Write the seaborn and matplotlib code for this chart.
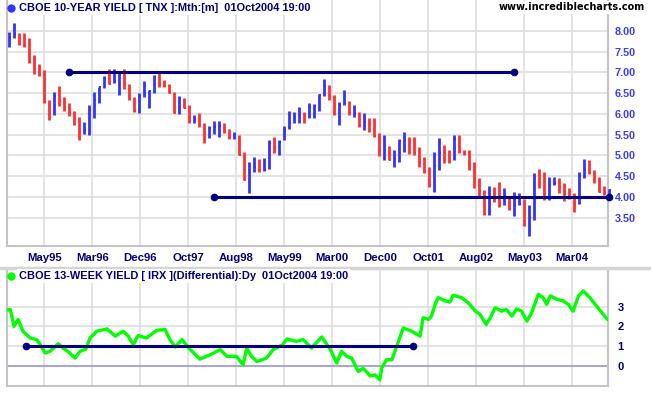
import numpy as np
import pandas as pd
import matplotlib
matplotlib.use("Agg")
import matplotlib.pyplot as plt
from matplotlib.lines import Line2D
import seaborn as sns

# ---------------- data ----------------
months = pd.period_range("1994-10", "2004-10", freq="M")

tnx_high = [7.98, 8.18, 7.94, 7.94, 7.82, 7.42, 7.19, 7.05, 6.33, 6.53,
            6.67, 6.40, 6.25, 6.08, 5.93, 5.81, 6.21, 6.53, 6.65, 6.91,
            7.07, 7.09, 7.02, 7.07, 6.73, 6.41, 6.49, 6.80, 6.57, 6.93,
            7.00, 6.81, 6.73, 6.53, 6.43, 6.37, 6.21, 5.97, 6.01, 5.77,
            5.71, 5.84, 5.84, 5.77, 5.63, 5.57, 5.49, 5.09, 4.85, 4.96,
            4.91, 4.93, 5.36, 5.44, 5.37, 5.71, 6.08, 6.05, 6.17, 6.05,
            6.25, 6.24, 6.47, 6.83, 6.70, 6.45, 6.29, 6.57, 6.30, 6.21,
            6.05, 6.01, 5.89, 5.89, 5.53, 5.49, 5.23, 5.13, 5.39, 5.57,
            5.44, 5.45, 5.21, 4.97, 4.73, 5.09, 5.41, 5.24, 5.13, 5.49,
            5.48, 5.13, 5.12, 4.85, 4.45, 4.17, 4.27, 4.25, 4.37, 4.21,
            3.97, 4.13, 4.09, 3.95, 3.81, 4.57, 4.67, 4.61, 4.49, 4.48,
            4.45, 4.33, 4.21, 4.09, 4.61, 4.91, 4.88, 4.64, 4.49, 4.27,
            4.19]
tnx_low = [7.60, 7.82, 7.66, 7.60, 7.23, 6.95, 6.90, 6.25, 5.85, 5.97,
           6.19, 6.08, 5.95, 5.73, 5.37, 5.52, 5.49, 5.89, 6.25, 6.62,
           6.71, 6.75, 6.45, 6.61, 6.33, 6.05, 6.03, 6.40, 6.13, 6.49,
           6.65, 6.65, 6.49, 6.01, 6.00, 6.13, 5.79, 5.79, 5.68, 5.29,
           5.41, 5.52, 5.45, 5.55, 5.39, 5.39, 5.01, 4.41, 4.10, 4.61,
           4.61, 4.63, 4.67, 5.07, 5.01, 5.36, 5.63, 5.77, 5.77, 5.77,
           5.89, 5.89, 6.08, 6.43, 6.33, 5.97, 5.73, 6.21, 5.97, 5.93,
           5.69, 5.60, 5.57, 5.45, 4.99, 4.88, 4.89, 4.72, 4.85, 5.09,
           5.04, 5.01, 4.71, 4.57, 4.25, 4.11, 4.64, 4.81, 4.81, 4.88,
           5.05, 5.01, 4.65, 4.21, 3.97, 3.57, 3.57, 3.89, 3.75, 3.80,
           3.69, 3.55, 3.81, 3.29, 3.07, 3.45, 4.21, 3.93, 3.92, 4.29,
           4.09, 3.91, 3.96, 3.65, 3.83, 4.45, 4.55, 4.33, 4.11, 4.05,
           3.97]
tnx_close = [7.82, 7.92, 7.84, 7.63, 7.25, 7.20, 6.95, 6.29, 6.20, 6.43,
             6.30, 6.15, 6.05, 5.76, 5.57, 5.60, 6.10, 6.33, 6.65, 6.87,
             6.73, 6.80, 6.94, 6.73, 6.35, 6.06, 6.42, 6.49, 6.55, 6.89,
             6.71, 6.66, 6.50, 6.02, 6.35, 6.14, 5.83, 5.87, 5.74, 5.51,
             5.65, 5.68, 5.70, 5.56, 5.45, 5.49, 5.02, 4.42, 4.61, 4.73,
             4.63, 4.65, 5.29, 5.21, 5.33, 5.61, 5.79, 5.93, 5.97, 5.90,
             6.17, 6.20, 6.45, 6.67, 6.43, 6.00, 6.22, 6.27, 6.02, 6.03,
             5.73, 5.80, 5.76, 5.47, 5.11, 5.13, 4.90, 4.92, 5.35, 5.38,
             5.33, 5.05, 4.83, 4.60, 4.27, 4.75, 5.05, 5.03, 4.88, 5.40,
             5.10, 5.04, 4.80, 4.46, 4.14, 3.60, 4.00, 3.95, 3.80, 4.05,
             3.70, 3.80, 3.84, 3.33, 3.49, 4.50, 4.45, 3.94, 4.29, 4.33,
             4.25, 4.13, 3.97, 3.84, 4.51, 4.65, 4.58, 4.48, 4.13, 4.12,
             4.16]

x_labels = ["May95", "Mar96", "Dec96", "Oct97", "Aug98", "May99",
            "Mar00", "Dec00", "Oct01", "Aug02", "May03", "Mar04"]
top_yticks = [3.5, 4.0, 4.5, 5.0, 5.5, 6.0, 6.5, 7.0, 7.5, 8.0]
bottom_yticks = [0, 1, 2, 3]

# IRX differential (decimal year, value)
irx_year = [1994.72, 1994.78, 1994.84, 1994.91, 1994.99, 1995.11, 1995.22,
            1995.28, 1995.36, 1995.44, 1995.58, 1995.66, 1995.74, 1995.86,
            1995.94, 1996.04, 1996.11, 1996.22, 1996.39, 1996.53, 1996.66,
            1996.74, 1996.83, 1996.91, 1997.05, 1997.22, 1997.36, 1997.44,
            1997.53, 1997.64, 1997.78, 1997.94, 1998.11, 1998.28, 1998.39,
            1998.55, 1998.66, 1998.72, 1998.80, 1998.89, 1999.05, 1999.16,
            1999.32, 1999.39, 1999.55, 1999.66, 1999.80, 1999.97, 2000.11,
            2000.22, 2000.30, 2000.39, 2000.47, 2000.58, 2000.66, 2000.78,
            2000.86, 2000.94, 2000.97, 2001.05, 2001.14, 2001.22, 2001.33,
            2001.47, 2001.61, 2001.66, 2001.75, 2001.80, 2001.86, 2001.91,
            2002.03, 2002.11, 2002.16, 2002.30, 2002.41, 2002.53, 2002.61,
            2002.71, 2002.78, 2002.86, 2002.97, 2003.05, 2003.14, 2003.22,
            2003.30, 2003.39, 2003.47, 2003.58, 2003.66, 2003.72, 2003.78,
            2003.89, 2004.00, 2004.08, 2004.16, 2004.25, 2004.33, 2004.44,
            2004.55, 2004.64, 2004.73]
irx_value = [2.82, 2.85, 2.00, 2.35, 1.75, 1.41, 1.33, 1.07, 0.65, 0.73,
             1.12, 0.90, 0.73, 0.39, 0.73, 0.85, 1.41, 1.75, 1.87, 1.50,
             1.75, 1.53, 1.07, 1.53, 1.41, 1.80, 1.84, 1.33, 0.95, 1.33,
             0.82, 0.34, 0.56, 0.82, 0.48, 0.48, 0.05, 0.90, 0.48, 0.22,
             0.39, 0.82, 1.07, 1.36, 1.24, 1.33, 0.90, 1.46, 0.85, 0.14,
             0.73, 0.48, 0.39, -0.29, -0.12, -0.51, -0.46, -0.71, -0.12, 0.31,
             0.31, 0.99, 1.92, 1.75, 1.50, 2.43, 2.35, 2.52, 3.11, 3.45,
             3.28, 3.23, 3.57, 3.45, 3.20, 2.77, 2.60, 2.09, 2.43, 2.94,
             2.77, 2.85, 2.52, 2.88, 2.77, 2.26, 2.69, 3.62, 3.45, 3.11,
             3.54, 3.37, 3.28, 3.11, 2.77, 3.54, 3.79, 3.45, 3.03, 2.69,
             2.35]

# support / resistance lines (start month, end month, level)
tnx_lines = [("1995-10", "2003-03", 7.0), ("1998-03", "2004-10", 4.0)]
irx_line_years = (1995.05, 2001.49)
irx_line_level = 1.0

# ---------------- styling ----------------
sns.set_theme(style="white")
plt.rcParams["font.family"] = ["Liberation Sans", "DejaVu Sans"]

NAVY = "#000080"
RED = "#ff3030"
BLUE = "#3333ff"
GREEN = "#00ff00"
GRID = "#dedede"
FRAME = "#c4c4c4"

W, H = 651, 395
fig = plt.figure(figsize=(W / 100, H / 100), dpi=100)
fig.patch.set_facecolor("white")

def fx(px):
    return px / W

def fy(py):
    return 1 - py / H

L, R = 7, 608
ax1 = fig.add_axes([fx(L), fy(246), fx(R - L), 246 / H])
ax2 = fig.add_axes([fx(L), fy(386), fx(R - L), (386 - 269) / H])

start = months[0]

def year_to_x(y):
    return (np.asarray(y) - (start.year + (start.month - 1) / 12)) * 12

def month_to_x(m):
    return (pd.Period(m, freq="M") - start).n

tick_pos = 7.16 + 9.6 * np.arange(len(x_labels))
xlim = (-0.3, 119.9)

for ax in (ax1, ax2):
    ax.set_facecolor("white")
    ax.set_xlim(*xlim)
    ax.set_xticks(tick_pos)
    ax.grid(False)
    for s in ("left", "bottom", "right"):
        ax.spines[s].set_color(FRAME)
        ax.spines[s].set_linewidth(1.5)
    ax.spines["top"].set_visible(False)
    for t in tick_pos:
        ax.axvline(t, color=GRID, lw=1.2, zorder=0)
    ax.yaxis.tick_right()
    ax.tick_params(axis="both", length=0)

# ---- top panel: monthly HLC bars ----
ax1.set_ylim(2.82, 8.74)
ax1.set_yticks(top_yticks)
ax1.set_yticklabels([f"{v:.2f}" for v in top_yticks])
for v in top_yticks:
    ax1.axhline(v, color=GRID, lw=1.2, zorder=0)
ax1.tick_params(axis="y", pad=5, labelsize=7.8, labelcolor="#3c3cff")
for lab in ax1.get_yticklabels():
    lab.set_fontweight("bold")
ax1.set_xticklabels(x_labels)
ax1.tick_params(axis="x", pad=5, labelsize=8.2, labelcolor=NAVY)
for lab in ax1.get_xticklabels():
    lab.set_fontweight("bold")

prev = None
for i, (h, l, c) in enumerate(zip(tnx_high, tnx_low, tnx_close)):
    col = BLUE if (prev is None or c >= prev) else RED
    ax1.plot([i, i], [l, h], color=col, lw=2.0, solid_capstyle="butt",
             clip_on=False, zorder=3)
    ax1.plot([i, i + 0.5], [c, c], color=col, lw=1.4, solid_capstyle="butt",
             clip_on=False, zorder=3)
    prev = c

for m0, m1, lvl in tnx_lines:
    ax1.plot([month_to_x(m0), month_to_x(m1)], [lvl, lvl], color=NAVY, lw=2.2,
             marker="o", ms=4.5, clip_on=False, zorder=4)

# ---- bottom panel: IRX differential ----
ax2.set_ylim(-1.02, 4.9)
ax2.set_yticks(bottom_yticks)
ax2.set_yticklabels([str(v) for v in bottom_yticks])
for v in [1, 2, 3]:
    ax2.axhline(v, color=GRID, lw=1.2, zorder=0)
ax2.axhline(0, color="#8c8cd2", lw=1.1, zorder=1)
ax2.tick_params(axis="y", pad=7, labelsize=8, labelcolor=NAVY)
for lab in ax2.get_yticklabels():
    lab.set_fontweight("bold")
ax2.set_xticklabels([])

irx_df = pd.DataFrame({"x": year_to_x(irx_year), "v": irx_value})
sns.lineplot(data=irx_df, x="x", y="v", ax=ax2, color=GREEN, lw=2.4,
             sort=False, zorder=3)
ax2.set_xlabel("")
ax2.set_ylabel("")
ax2.plot(list(year_to_x(list(irx_line_years))), [irx_line_level] * 2,
         color=NAVY, lw=2.2, marker="o", ms=4.5, zorder=4)
ax2.set_xlim(*xlim)

# ---- separator between panels ----
fig.add_artist(Line2D([0, 1], [fy(267.5), fy(267.5)], transform=fig.transFigure,
                      color="#d4d4d4", lw=2.5))

# ---- titles & watermark ----
fig.text(fx(19), fy(8), "CBOE 10-YEAR YIELD [ TNX ]:Mth:[m]  01Oct2004 19:00",
         fontsize=7.9, fontweight="bold", color=NAVY, va="center", ha="left",
         bbox=dict(facecolor="white", edgecolor="none", pad=1.5))
fig.add_artist(Line2D([fx(11)], [fy(8)], transform=fig.transFigure,
                      marker="o", ms=5, color=BLUE, lw=0))
fig.text(fx(19), fy(276), "CBOE 13-WEEK YIELD [ IRX ](Differential):Dy  01Oct2004 19:00",
         fontsize=7.9, fontweight="bold", color=NAVY, va="center", ha="left",
         bbox=dict(facecolor="white", edgecolor="none", pad=1.5))
fig.add_artist(Line2D([fx(11)], [fy(276)], transform=fig.transFigure,
                      marker="o", ms=5, color=GREEN, lw=0))
fig.text(fx(499), fy(7.5), "www.incrediblecharts.com", fontsize=7,
         fontweight="bold", color="black", va="center", ha="left",
         family=["DejaVu Sans"],
         bbox=dict(facecolor="white", edgecolor="none", pad=1.0))

fig.savefig("out.png", dpi=100, facecolor="white")
